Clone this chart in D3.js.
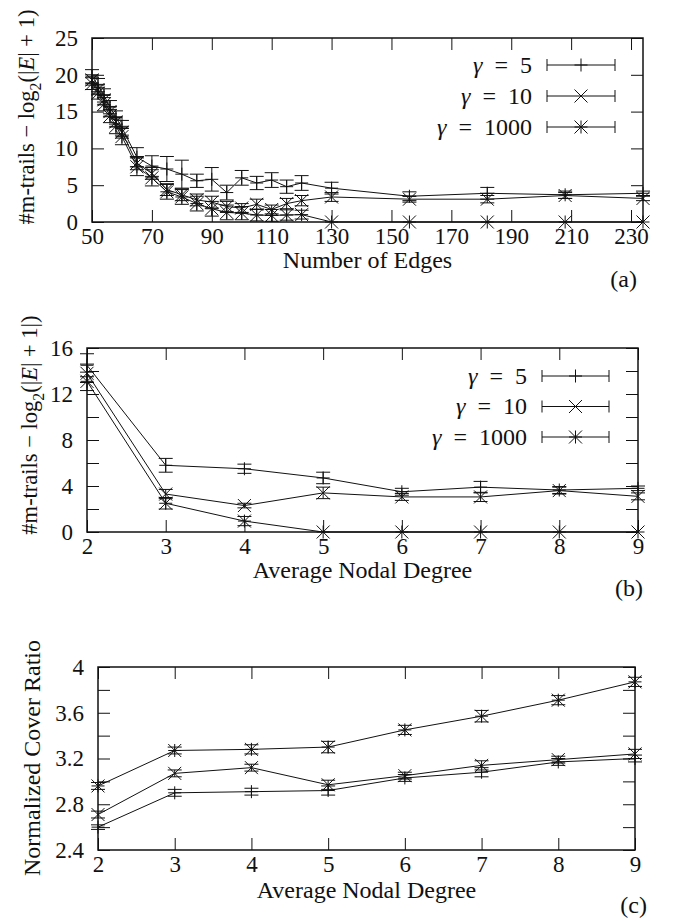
<!DOCTYPE html>
<html>
<head>
<meta charset="utf-8">
<script src="https://cdn.jsdelivr.net/npm/d3@7"></script>
<style>
  body { margin: 0; background: #fff; }
  svg text { font-family: "Liberation Serif", "Times New Roman", Times, "DejaVu Serif", serif !important; fill: #111; }
</style>
</head>
<body>
<script>
// values
var gammas = ["5", "10", "1000"];
var markers = ["plus", "cross", "star"];

// (a) number of edges
var edgeCounts = [50, 52, 54, 56, 58, 60, 65, 70, 75, 80, 85, 90, 95, 100, 105, 110, 115, 120, 130, 156, 182, 208, 234];
var edgeG5 = [19.8, 18.6, 17.2, 15.6, 14.2, 12.8, 8.8, 7.6, 7.2, 6.5, 5.6, 5.8, 4.0, 6.0, 5.3, 5.7, 4.8, 5.3, 4.6, 3.5, 3.9, 3.7, 3.9];
var edgeG5Err = [0.9, 0.9, 0.9, 0.9, 0.9, 1.0, 1.3, 1.4, 1.7, 1.9, 0.9, 1.6, 1.0, 1.0, 0.9, 1.0, 0.9, 1.0, 0.8, 0.6, 0.8, 0.5, 0.3];
var edgeG10 = [19.3, 18.0, 16.6, 15.0, 13.6, 12.2, 8.0, 6.6, 4.4, 3.7, 3.0, 2.7, 2.1, 1.9, 2.4, 1.7, 2.5, 2.9, 3.4, 3.1, 3.1, 3.6, 3.2];
var edgeG10Err = [0.7, 0.7, 0.7, 0.7, 0.7, 0.8, 0.9, 0.8, 0.8, 0.8, 0.8, 0.8, 0.7, 0.6, 0.7, 0.6, 0.7, 0.7, 0.6, 0.4, 0.5, 0.4, 0.3];
var edgeG1000 = [18.8, 17.5, 16.0, 14.4, 13.0, 11.6, 7.5, 6.0, 4.1, 3.4, 2.5, 1.8, 1.3, 1.2, 0.95, 0.9, 0.95, 1.0, 0, 0, 0, 0, 0];
var edgeG1000Err = [0.8, 0.8, 0.9, 0.9, 1.0, 1.1, 1.2, 1.1, 1.0, 1.0, 1.0, 1.0, 1.0, 0.9, 0.8, 0.8, 0.7, 0.6, 0, 0, 0, 0, 0];
var edgeTicksX = [50, 70, 90, 110, 130, 150, 170, 190, 210, 230];
var edgeTicksY = [0, 5, 10, 15, 20, 25];

// (b) and (c) average nodal degree
var degrees = [2, 3, 4, 5, 6, 7, 8, 9];
var degG5 = [14.5, 5.8, 5.5, 4.7, 3.5, 3.9, 3.65, 3.8];
var degG5Err = [1.0, 0.6, 0.4, 0.5, 0.3, 0.5, 0.3, 0.2];
var degG10 = [13.8, 3.3, 2.3, 3.4, 3.05, 3.05, 3.6, 3.1];
var degG10Err = [0.8, 0.4, 0.2, 0.5, 0.3, 0.4, 0.3, 0.3];
var degG1000 = [13.1, 2.5, 0.95, 0, 0, 0, 0, 0];
var degG1000Err = [0.8, 0.5, 0.4, 0, 0, 0, 0, 0];
var degTicksY = [0, 2, 4, 6, 8, 10, 12, 14, 16];
var degLabelsY = [0, 4, 8, 12, 16];

var ratioG5 = [2.60, 2.90, 2.91, 2.92, 3.03, 3.08, 3.17, 3.20];
var ratioG5Err = [0.02, 0.03, 0.03, 0.04, 0.03, 0.04, 0.03, 0.03];
var ratioG10 = [2.71, 3.07, 3.12, 2.97, 3.05, 3.14, 3.19, 3.24];
var ratioG10Err = [0.03, 0.03, 0.03, 0.04, 0.03, 0.04, 0.03, 0.04];
var ratioG1000 = [2.96, 3.27, 3.28, 3.30, 3.45, 3.57, 3.71, 3.87];
var ratioG1000Err = [0.03, 0.03, 0.04, 0.05, 0.04, 0.05, 0.04, 0.04];
var ratioTicksY = [2.4, 2.6, 2.8, 3.0, 3.2, 3.4, 3.6, 3.8, 4.0];
var ratioLabelsY = [2.4, 2.8, 3.2, 3.6, 4.0];

var w = 675,
    h = 921,
    ms = 6.5,     // marker half size
    cap = 7;      // error bar crossbar half width

var serif = "'Liberation Serif', 'Times New Roman', Times, 'DejaVu Serif', serif";

var svg = d3.select("body")
    .append("svg")
    .attr("width", w)
    .attr("height", h)
    .attr("font-family", serif);

function pack(xs, ys, es) {
    return xs.map(function(v, i) { return {x: v, y: ys[i], e: es[i]}; });
}

var trailsTitleA = [{t: "#m-trails \u2212 log"}, {t: "2", sub: true}, {t: "(|"}, {t: "E", i: true}, {t: "| + 1)"}];
var trailsTitleB = [{t: "#m-trails \u2212 log"}, {t: "2", sub: true}, {t: "(|"}, {t: "E", i: true}, {t: "| + 1|)"}];

drawPanel({
    box: [92, 643, 38, 222],
    xDomain: [50, 234], yDomain: [0, 25],
    xTicks: edgeTicksX, yTicks: edgeTicksY, yLabels: edgeTicksY,
    series: [pack(edgeCounts, edgeG5, edgeG5Err), pack(edgeCounts, edgeG10, edgeG10Err), pack(edgeCounts, edgeG1000, edgeG1000Err)],
    xTitle: "Number of Edges", xTitleY: 268,
    yTitle: trailsTitleA, yTitleX: 26, yTitleY: 117, yTitleSize: 22.5,
    legend: {textX: 532, x1: 547, x2: 615, y: 65, dy: 31},
    tag: "(a)", tagX: 637, tagY: 287
});

drawPanel({
    box: [87, 638, 348, 532],
    xDomain: [2, 9], yDomain: [0, 16],
    xTicks: degrees, yTicks: degTicksY, yLabels: degLabelsY,
    series: [pack(degrees, degG5, degG5Err), pack(degrees, degG10, degG10Err), pack(degrees, degG1000, degG1000Err)],
    xTitle: "Average Nodal Degree", xTitleY: 578,
    yTitle: trailsTitleB, yTitleX: 29, yTitleY: 425, yTitleSize: 22.5,
    legend: {textX: 527, x1: 542, x2: 609, y: 376, dy: 30.5},
    tag: "(b)", tagX: 643, tagY: 596
});

drawPanel({
    box: [98, 635, 667, 850],
    xDomain: [2, 9], yDomain: [2.4, 4.0],
    xTicks: degrees, yTicks: ratioTicksY, yLabels: ratioLabelsY,
    series: [pack(degrees, ratioG5, ratioG5Err), pack(degrees, ratioG10, ratioG10Err), pack(degrees, ratioG1000, ratioG1000Err)],
    xTitle: "Average Nodal Degree", xTitleY: 898,
    yTitle: [{t: "Normalized Cover Ratio"}], yTitleX: 32, yTitleY: 758, yTitleSize: 24,
    legend: null,
    tag: "(c)", tagX: 647, tagY: 913
});

function drawPanel(p) {
    var left = p.box[0], right = p.box[1], top = p.box[2], bottom = p.box[3];
    var x = d3.scaleLinear().domain(p.xDomain).range([left, right]);
    var y = d3.scaleLinear().domain(p.yDomain).range([bottom, top]);
    var g = svg.append("g");

    var hasLabel = function(v) {
        return p.yLabels.some(function(l) { return Math.abs(l - v) < 1e-6; });
    };
    var fmt = function(v) { return hasLabel(v) ? (+v.toFixed(1)).toString() : ""; };

    // ticks point inward on all four sides
    var axes = [
        [d3.axisBottom(x).tickValues(p.xTicks).tickFormat(d3.format("d")).tickPadding(6), "translate(0," + bottom + ")"],
        [d3.axisTop(x).tickValues(p.xTicks).tickFormat(""), "translate(0," + top + ")"],
        [d3.axisLeft(y).tickValues(p.yTicks).tickFormat(fmt).tickPadding(14), "translate(" + left + ",0)"],
        [d3.axisRight(y).tickValues(p.yTicks).tickFormat(""), "translate(" + right + ",0)"]
    ];
    axes.forEach(function(a) {
        var ax = g.append("g")
            .attr("transform", a[1])
            .call(a[0].tickSizeInner(-12).tickSizeOuter(0))
            .attr("font-family", serif)
            .attr("font-size", 23);
        ax.select(".domain").remove();
        ax.selectAll("line").attr("stroke", "#111").attr("stroke-width", 1);
        ax.selectAll("text").attr("fill", "#111");
    });

    var line = d3.line()
        .x(function(d) { return x(d.x); })
        .y(function(d) { return y(d.y); });

    p.series.forEach(function(s, k) {
        g.append("path")
            .datum(s)
            .attr("d", line)
            .attr("fill", "none")
            .attr("stroke", "#111")
            .attr("stroke-width", 1);

        var bars = g.append("g").attr("stroke", "#111").attr("stroke-width", 1);
        s.filter(function(d) { return d.e > 0; }).forEach(function(d) {
            var cx = x(d.x), y1 = y(d.y + d.e), y2 = y(d.y - d.e);
            bars.append("path")
                .attr("d", "M" + cx + "," + y1 + "V" + y2 +
                    "M" + (cx - cap) + "," + y1 + "H" + (cx + cap) +
                    "M" + (cx - cap) + "," + y2 + "H" + (cx + cap));
        });

        g.append("g").selectAll("path")
            .data(s)
            .enter()
            .append("path")
            .attr("transform", function(d) { return "translate(" + x(d.x) + "," + y(d.y) + ")"; })
            .attr("d", marker(markers[k]))
            .attr("stroke", "#111")
            .attr("stroke-width", 1)
            .attr("fill", "none");
    });

    g.append("rect")
        .attr("x", left).attr("y", top)
        .attr("width", right - left).attr("height", bottom - top)
        .attr("fill", "none")
        .attr("stroke", "#111")
        .attr("stroke-width", 1.5);

    if (p.legend) {
        var L = p.legend;
        gammas.forEach(function(gm, k) {
            var ly = L.y + k * L.dy;
            var t = g.append("text")
                .attr("x", L.textX).attr("y", ly).attr("dy", "0.33em")
                .attr("text-anchor", "end")
                .attr("font-size", 24);
            t.append("tspan").attr("font-style", "italic").text("\u03b3");
            t.append("tspan").text("\u2002=\u2002" + gm);
            g.append("path")
                .attr("d", "M" + L.x1 + "," + ly + "H" + L.x2 +
                    "M" + L.x1 + "," + (ly - 6) + "V" + (ly + 6) +
                    "M" + L.x2 + "," + (ly - 6) + "V" + (ly + 6))
                .attr("stroke", "#111").attr("stroke-width", 1).attr("fill", "none");
            g.append("path")
                .attr("transform", "translate(" + ((L.x1 + L.x2) / 2) + "," + ly + ")")
                .attr("d", marker(markers[k]))
                .attr("stroke", "#111").attr("stroke-width", 1).attr("fill", "none");
        });
    }

    g.append("text")
        .attr("x", (left + right) / 2).attr("y", p.xTitleY)
        .attr("text-anchor", "middle")
        .attr("font-size", 24)
        .text(p.xTitle);

    var yt = g.append("text")
        .attr("transform", "translate(" + p.yTitleX + "," + p.yTitleY + ") rotate(-90)")
        .attr("text-anchor", "middle")
        .attr("dy", "0.35em")
        .attr("font-size", p.yTitleSize);
    var shifted = false;
    p.yTitle.forEach(function(part) {
        var ts = yt.append("tspan").text(part.t);
        if (part.i) ts.attr("font-style", "italic");
        if (part.sub) {
            ts.attr("font-size", p.yTitleSize * 0.7).attr("dy", p.yTitleSize * 0.3);
            shifted = true;
        } else if (shifted) {
            ts.attr("dy", -p.yTitleSize * 0.3);
            shifted = false;
        }
    });

    g.append("text")
        .attr("x", p.tagX).attr("y", p.tagY)
        .attr("text-anchor", "end")
        .attr("font-size", 24)
        .text(p.tag);
}

function marker(type) {
    var s = ms;
    var plus = "M" + (-s) + ",0H" + s + "M0," + (-s) + "V" + s;
    var cross = "M" + (-s) + "," + (-s) + "L" + s + "," + s + "M" + (-s) + "," + s + "L" + s + "," + (-s);
    if (type == "plus") return plus;
    if (type == "cross") return cross;
    return plus + cross;
}
</script>
</body>
</html>
